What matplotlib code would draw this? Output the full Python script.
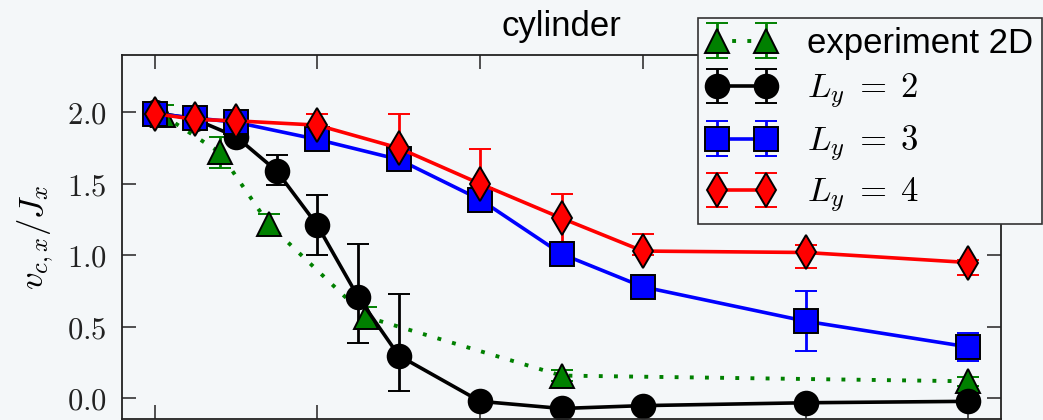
import matplotlib
matplotlib.use("Agg")
import matplotlib.pyplot as plt
from matplotlib.ticker import FuncFormatter

plt.rcParams['mathtext.fontset'] = 'cm'
plt.rcParams['font.family'] = ['Liberation Sans', 'DejaVu Sans']

bg = '#f4f7f9'

# experiment (2D)
exp_x = [0.1, 0.8, 1.4, 2.6, 5.0, 10.0]
exp_y = [1.98, 1.72, 1.22, 0.57, 0.16, 0.12]
exp_err = [0.07, 0.11, 0.07, 0.07, 0.04, 0.03]

# L_y = 2
ly2_x = [0.0, 0.5, 1.0, 1.5, 2.0, 2.5, 3.0, 4.0, 5.0, 6.0, 8.0, 10.0]
ly2_y = [2.0, 1.95, 1.83, 1.59, 1.21, 0.71, 0.30, -0.02, -0.07, -0.05, -0.03, -0.02]
ly2_lo = [0.02, 0.02, 0.03, 0.10, 0.21, 0.32, 0.25, 0.02, 0.02, 0.02, 0.02, 0.02]
ly2_hi = [0.02, 0.02, 0.03, 0.11, 0.21, 0.37, 0.43, 0.02, 0.02, 0.02, 0.02, 0.02]

# L_y = 3
ly3_x = [0.0, 0.5, 1.0, 2.0, 3.0, 4.0, 5.0, 6.0, 8.0, 10.0]
ly3_y = [1.99, 1.96, 1.93, 1.81, 1.67, 1.39, 1.01, 0.78, 0.54, 0.36]
ly3_err = [0.02, 0.03, 0.03, 0.03, 0.03, 0.05, 0.04, 0.03, 0.21, 0.10]

# L_y = 4
ly4_x = [0.0, 0.5, 1.0, 2.0, 3.0, 4.0, 5.0, 6.0, 8.0, 10.0]
ly4_y = [1.99, 1.95, 1.94, 1.91, 1.75, 1.50, 1.26, 1.03, 1.02, 0.95]
ly4_lo = [0.02, 0.02, 0.02, 0.02, 0.02, 0.20, 0.17, 0.03, 0.11, 0.09]
ly4_hi = [0.02, 0.02, 0.02, 0.08, 0.24, 0.24, 0.17, 0.12, 0.05, 0.02]

fig = plt.figure(figsize=(10.43, 4.2), dpi=100, facecolor=bg)
ax = fig.add_axes([122 / 1043, 1.5 / 420, 879 / 1043, 363.5 / 420])
ax.set_facecolor(bg)

common = dict(ms=17, mec='black', mew=1.4, elinewidth=2.0, capsize=8, capthick=2.0)

ax.errorbar(exp_x, exp_y, yerr=exp_err, marker='^', color='green',
            linestyle=(0, (1, 2.9)), lw=2.8, label='experiment 2D', **common)
ax.errorbar(ly2_x, ly2_y, yerr=[ly2_lo, ly2_hi], marker='o', color='black',
            lw=2.6, label=r'$L_y\;=\;2$', **common)
ax.errorbar(ly3_x, ly3_y, yerr=ly3_err, marker='s', color='blue',
            lw=2.6, label=r'$L_y\;=\;3$', **common)
ax.errorbar(ly4_x, ly4_y, yerr=[ly4_lo, ly4_hi], marker='d', color='red',
            lw=2.6, label=r'$L_y\;=\;4$', **common)

ax.set_xlim(-0.4, 10.4)
ax.set_ylim(-0.14, 2.4)
ax.set_xticks([0, 2, 4, 6, 8, 10])
ax.set_yticks([0.0, 0.5, 1.0, 1.5, 2.0])
ax.yaxis.set_major_formatter(FuncFormatter(lambda v, p: f'${v:.1f}$'))
ax.tick_params(direction='in', length=10, width=1.1, top=True, right=True,
               labelsize=22, pad=11, colors='#222222')
# the x tick labels sit below the visible canvas
ax.tick_params(axis='x', labelbottom=False)
for s in ax.spines.values():
    s.set_linewidth(1.3)
    s.set_color('#222222')

ax.set_ylabel(r'$v_{c,x}/J_x$', fontsize=25, labelpad=8)
ax.set_title('cylinder', fontsize=25, pad=14)

leg = ax.legend(loc='upper left', bbox_to_anchor=(698 / 1043, 1 - 18 / 420),
                bbox_transform=fig.transFigure, borderaxespad=0, fontsize=25,
                numpoints=2, fancybox=False, framealpha=1, borderpad=0.25,
                labelspacing=0.36, handletextpad=0.9, handlelength=2.0)
leg.get_frame().set_edgecolor('#333333')
leg.get_frame().set_linewidth(1.2)
leg.get_frame().set_facecolor(bg)

fig.savefig('out.png', dpi=100, facecolor=bg)
